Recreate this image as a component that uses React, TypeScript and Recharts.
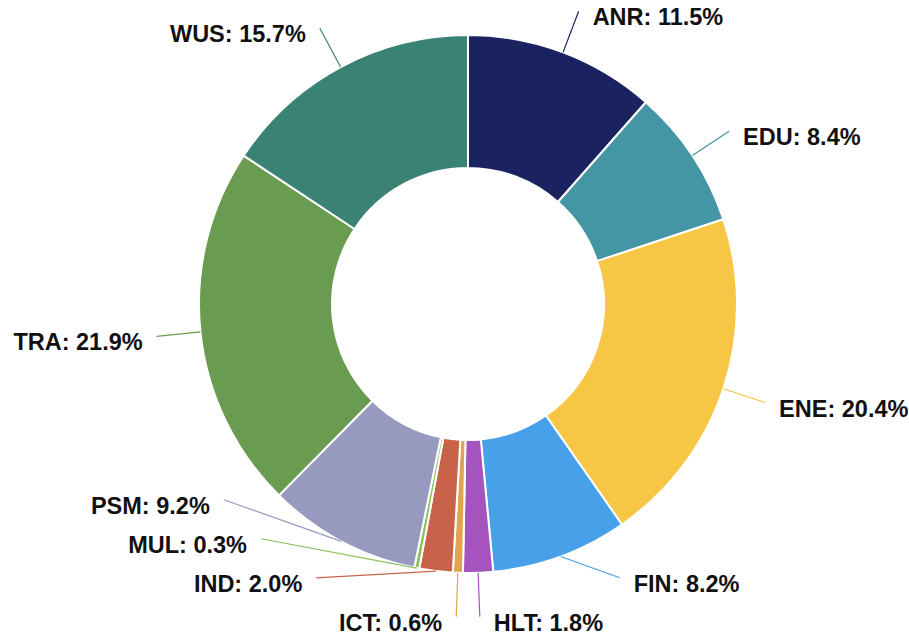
import { PieChart, Pie, Cell } from 'recharts'

const categories = ['ANR', 'EDU', 'ENE', 'FIN', 'HLT', 'ICT', 'IND', 'MUL', 'PSM', 'TRA', 'WUS']
const shares = [11.5, 8.4, 20.4, 8.2, 1.8, 0.6, 2.0, 0.3, 9.2, 21.9, 15.7]
const colors = [
  '#1a2260',
  '#4496a4',
  '#f6c644',
  '#48a0e8',
  '#a553be',
  '#e0a450',
  '#c8634a',
  '#8cc060',
  '#9799bf',
  '#699c50',
  '#3a8274',
]

const data = categories.map((name, i) => ({ name, value: shares[i] }))

const WIDTH = 909
const HEIGHT = 634
const CX = 468
const CY = 304
const OUTER = 269
const INNER = 136
const LABEL_R = 313
const GAP = 39

interface LabelPos {
  x: number
  y: number
  right: boolean
}

// spread labels that would overlap, pushing them up along the label circle
function layoutLabels(): LabelPos[] {
  const total = shares.reduce((a, b) => a + b, 0)
  let acc = 0
  const items = shares.map((v, i) => {
    const mid = 90 - ((acc + v / 2) / total) * 360
    acc += v
    const rad = (mid * Math.PI) / 180
    const x = CX + LABEL_R * Math.cos(rad)
    const y = CY - LABEL_R * Math.sin(rad)
    return { i, x, y, right: x >= CX }
  })
  for (const side of [true, false]) {
    const list = items.filter((it) => it.right === side).sort((a, b) => a.y - b.y)
    for (let j = list.length - 1; j >= 0; j--) {
      const maxY = j === list.length - 1 ? CY + LABEL_R : list[j + 1].y - GAP
      if (list[j].y > maxY) {
        list[j].y = maxY
        const dy = maxY - CY
        const dx = Math.sqrt(Math.max(0, LABEL_R * LABEL_R - dy * dy))
        list[j].x = side ? CX + dx : CX - dx
      }
    }
  }
  return items.map(({ x, y, right }) => ({ x, y, right }))
}

const labelPos = layoutLabels()

function renderLabel(props: any) {
  const { cx, cy, midAngle, outerRadius, index, name, value } = props
  const rad = (midAngle * Math.PI) / 180
  const sx = cx + outerRadius * Math.cos(rad)
  const sy = cy - outerRadius * Math.sin(rad)
  const p = labelPos[index]
  const tx = p.right ? p.x + 14 : p.x - 14
  return (
    <g>
      <line x1={sx} y1={sy} x2={p.x} y2={p.y} stroke={colors[index]} strokeWidth={1.2} />
      <text
        x={tx}
        y={p.y + 14}
        textAnchor={p.right ? 'start' : 'end'}
        fill="#111"
        fontSize={23.5}
        fontWeight="bold"
        fontFamily="'Liberation Sans', Arial, Helvetica, sans-serif"
      >
        {`${name}: ${Number(value).toFixed(1)}%`}
      </text>
    </g>
  )
}

export default function App() {
  return (
    <div style={{ position: 'absolute', left: 0, top: 0, width: WIDTH, height: HEIGHT, background: '#fff' }}>
      <PieChart width={WIDTH} height={HEIGHT} margin={{ top: 0, right: 0, bottom: 0, left: 0 }}>
        <Pie
          data={data}
          dataKey="value"
          nameKey="name"
          cx={CX}
          cy={CY}
          innerRadius={INNER}
          outerRadius={OUTER}
          startAngle={90}
          endAngle={-270}
          stroke="#fff"
          strokeWidth={2}
          label={renderLabel}
          labelLine={false}
          isAnimationActive={false}
        >
          {data.map((d, i) => (
            <Cell key={d.name} fill={colors[i]} />
          ))}
        </Pie>
      </PieChart>
    </div>
  )
}
